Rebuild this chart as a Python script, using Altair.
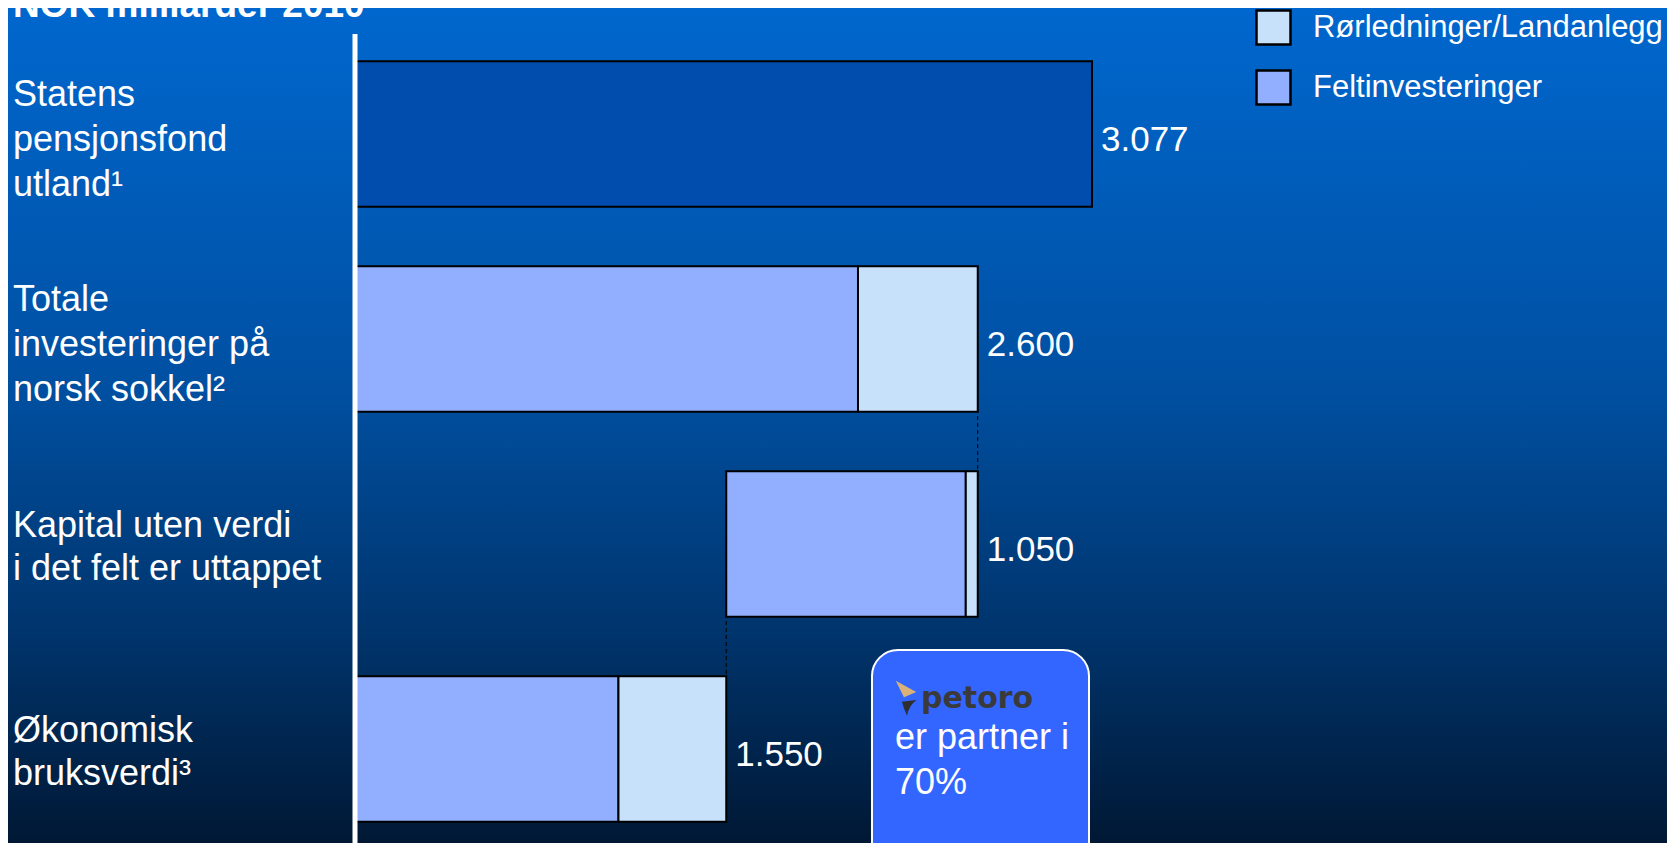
import altair as alt
import pandas as pd

# ---------------- data ----------------
categories = [
    "Statens pensjonsfond utland",
    "Totale investeringer på norsk sokkel",
    "Kapital uten verdi i det felt er uttappet",
    "Økonomisk bruksverdi",
]
category_lines = [
    "Statens\npensjonsfond\nutland¹",
    "Totale\ninvesteringer på\nnorsk sokkel²",
    "Kapital uten verdi\ni det felt er uttappet",
    "Økonomisk\nbruksverdi³",
]
fund_value = 3077
series = ["Feltinvesteringer", "Rørledninger/Landanlegg"]
felt_values = [2100, 1000, 1100]   # Totale, Kapital, Økonomisk
ror_values = [500, 50, 450]
total_labels = ["3.077", "2.600", "1.050", "1.550"]
title_text = "NOK milliarder 2010"
box_lines = "er partner i\n70%"
logo_text = "petoro"

# ---------------- build tables ----------------
totals = [f + r for f, r in zip(felt_values, ror_values)]
bases = [0, totals[0] - totals[1], 0]

rows = [{"cat": categories[0], "serie": "SPU", "start": 0, "end": fund_value}]
for i, cat in enumerate(categories[1:]):
    b = bases[i]
    rows.append({"cat": cat, "serie": series[0], "start": b, "end": b + felt_values[i]})
    rows.append({"cat": cat, "serie": series[1], "start": b + felt_values[i],
                 "end": b + felt_values[i] + ror_values[i]})
bars_df = pd.DataFrame(rows)

ends = [fund_value] + [b + t for b, t in zip(bases, totals)]
labels_df = pd.DataFrame({"cat": categories, "end": ends, "label": total_labels,
                          "lines": category_lines,
                          "n": [s.count("\n") + 1 for s in category_lines]})

conn_df = pd.DataFrame({
    "x": [ends[1], bases[1]],
    "c1": [categories[1], categories[2]],
    "c2": [categories[2], categories[3]],
})

one = pd.DataFrame({"a": [0]})

W, H = 1659, 835
FONT = "Liberation Sans"

xscale = alt.Scale(domain=[0, fund_value], range=[347, 1084], nice=False, zero=False)
yscale = alt.Scale(domain=categories, range=[23.5, 843.5], paddingInner=0.29, paddingOuter=0.145)

# background gradient
bg = alt.Chart(one).mark_rect(
    fill={"gradient": "linear", "x1": 0, "y1": 0, "x2": 0, "y2": 1,
          "stops": [{"offset": 0, "color": "#0067CE"},
                    {"offset": 0.45, "color": "#0050A2"},
                    {"offset": 0.75, "color": "#00346C"},
                    {"offset": 1, "color": "#001834"}]}
).encode(x=alt.value(0), x2=alt.value(W), y=alt.value(0), y2=alt.value(H))

connectors = alt.Chart(conn_df).mark_rule(
    color="black", strokeWidth=1, strokeDash=[4, 3]
).encode(
    x=alt.X("x:Q", scale=xscale, axis=None),
    y=alt.Y("c1:N", scale=yscale, axis=None),
    y2="c2:N",
)

bars = alt.Chart(bars_df).mark_bar(stroke="black", strokeWidth=2, opacity=1).encode(
    x=alt.X("start:Q", scale=xscale, axis=None),
    x2="end:Q",
    y=alt.Y("cat:N", scale=yscale, axis=None),
    color=alt.Color(
        "serie:N",
        scale=alt.Scale(domain=["SPU", series[0], series[1]],
                        range=["#004DAE", "#92AFFF", "#C8E1FA"]),
        legend=alt.Legend(
            orient="none", legendX=1247, legendY=1, title=None,
            values=[series[1], series[0]],
            symbolType="square", symbolSize=1156, symbolStrokeColor="black",
            symbolStrokeWidth=2.5, symbolOpacity=1,
            labelFontSize=31, labelColor="white", labelFont=FONT,
            labelOffset=21, rowPadding=15, padding=0, labelLimit=800,
        ),
    ),
)

values = alt.Chart(labels_df).mark_text(
    align="left", baseline="middle", dx=9, dy=6, fontSize=35, color="white", font=FONT
).encode(
    x=alt.X("end:Q", scale=xscale, axis=None),
    y=alt.Y("cat:N", scale=yscale, axis=None),
    text="label:N",
)

cat_text3 = alt.Chart(labels_df).transform_filter("datum.n == 3").mark_text(
    align="left", baseline="middle", dy=-39, fontSize=36, lineHeight=45, lineBreak="\n",
    color="white", font=FONT
).encode(
    x=alt.value(5),
    y=alt.Y("cat:N", scale=yscale, axis=None),
    text="lines:N",
)

cat_text2 = alt.Chart(labels_df).transform_filter("datum.n == 2").mark_text(
    align="left", baseline="middle", dy=-18, fontSize=36, lineHeight=43, lineBreak="\n",
    color="white", font=FONT
).encode(
    x=alt.value(5),
    y=alt.Y("cat:N", scale=yscale, axis=None),
    text="lines:N",
)

axis_line = alt.Chart(one).mark_rule(color="white", strokeWidth=5).encode(
    x=alt.value(347), y=alt.value(26), y2=alt.value(H)
)

title = alt.Chart(one).mark_text(
    text=title_text, align="left", baseline="alphabetic", fontSize=37,
    fontWeight="bold", color="white", font=FONT
).encode(x=alt.value(5), y=alt.value(9))

box = alt.Chart(one).mark_rect(
    fill="#3366FF", stroke="white", strokeWidth=2, cornerRadius=26
).encode(x=alt.value(864), x2=alt.value(1081), y=alt.value(642), y2=alt.value(880))

logo_tan = alt.Chart(one).mark_point(
    shape="M -1 -1 L 1 0.1 L -0.2 0.6 Z", filled=True, fill="#D9B27A",
    size=420, opacity=1, strokeWidth=0
).encode(x=alt.value(898), y=alt.value(683))

logo_dark = alt.Chart(one).mark_point(
    shape="M -0.7 -0.6 L 1 -0.8 Q 0.1 -0.2 -0.1 1 Q -0.5 0.2 -0.7 -0.6 Z",
    filled=True, fill="#2E2E2E", size=300, opacity=1, strokeWidth=0
).encode(x=alt.value(900), y=alt.value(699))

logo = alt.Chart(one).mark_text(
    text=logo_text, align="left", baseline="alphabetic", fontSize=30,
    fontWeight="bold", color="#3A3A3A", font="DejaVu Sans"
).encode(x=alt.value(913), y=alt.value(700))

box_text = alt.Chart(one).mark_text(
    text=box_lines, lineBreak="\n", align="left", baseline="alphabetic",
    fontSize=36, lineHeight=45, color="white", font=FONT
).encode(x=alt.value(887), y=alt.value(741))

chart = alt.layer(
    bg, connectors, bars, values, cat_text3, cat_text2, axis_line, title,
    box, logo_tan, logo_dark, logo, box_text
).properties(
    width=W, height=H, padding=0, autosize=alt.AutoSizeParams(type="none"),
    background="#001834",
).configure_view(stroke=None)

chart.save("out.html", embed_options={"renderer": "svg", "actions": False})
